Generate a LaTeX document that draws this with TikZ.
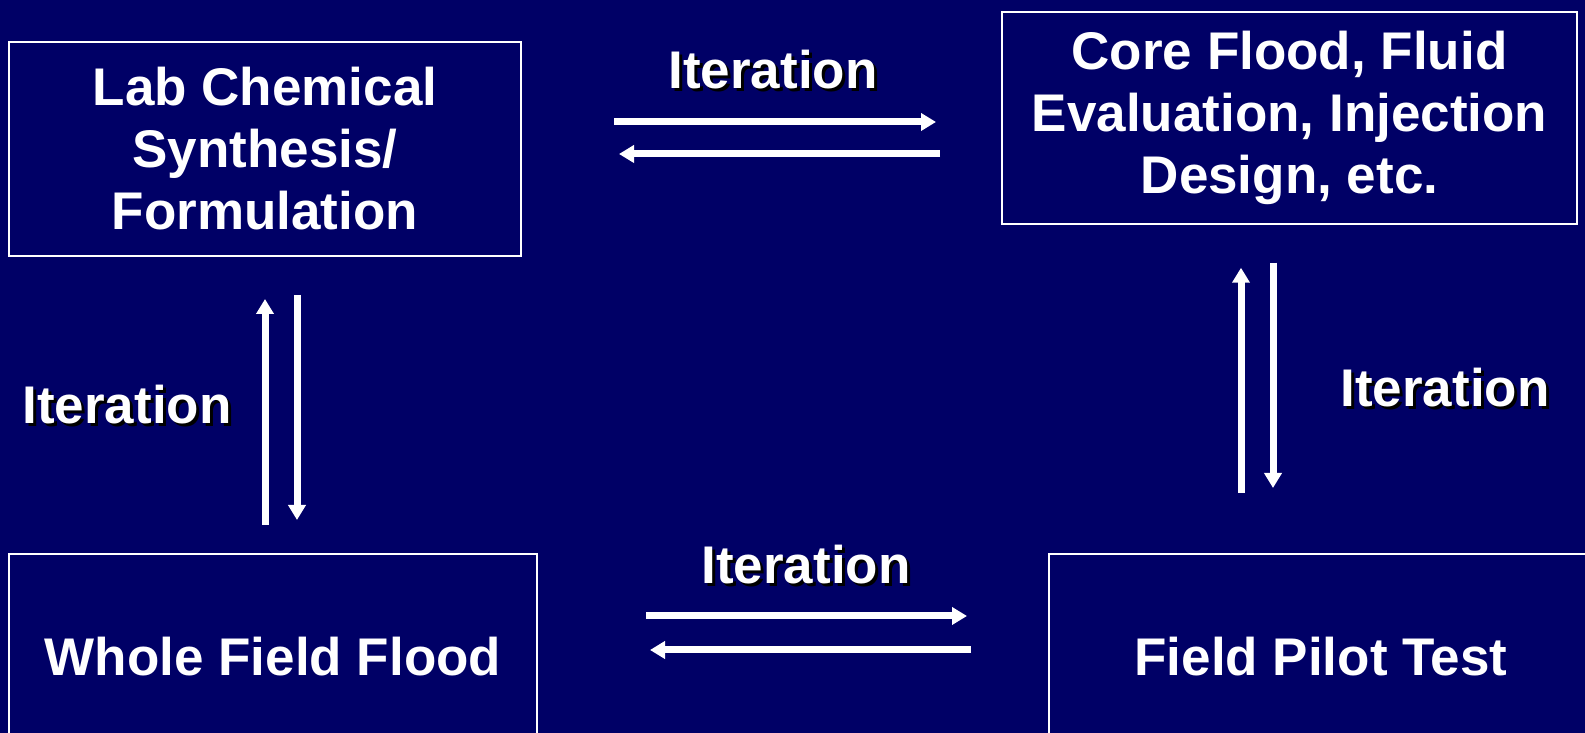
\documentclass[tikz,border=0pt]{standalone}
\usepackage{fontspec}
\setmainfont{Liberation Sans}
\usetikzlibrary{calc, arrows.meta}
\definecolor{slidebg}{RGB}{0,0,102}
\newcommand{\shadowed}[1]{\rlap{\hspace{3pt}\raisebox{-3pt}{\color{black}#1}}#1}

\begin{document}
\begin{tikzpicture}
    [x=1pt, y=1pt,
    boxnode/.style={rectangle, draw=white, line width=2pt, text=white, align=center, inner sep=0pt,
        font=\bfseries\fontsize{53}{62}\selectfont},
    itarrow/.style={white, line width=7pt, -{Triangle[length=15pt, width=17pt]}},
    itlabel/.style={text=white, inner sep=0pt, font=\bfseries\fontsize{53}{62}\selectfont},]

    \fill[slidebg] (0,0) rectangle (1585,733);
    \useasboundingbox (0,0) rectangle (1585,733);
    \clip (0,0) rectangle (1585,733);

    %Nodes
    \node[boxnode, minimum width=512pt, minimum height=214pt](lab) at (265,584){Lab Chemical\\Synthesis/\\Formulation};
    \node[boxnode, minimum width=575pt, minimum height=212pt](core) at (1289.5,615){Core Flood, Fluid\\Evaluation, Injection\\Design, etc.};
    \node[boxnode, minimum width=528pt, minimum height=206pt](whole) at (273,76){Whole Field Flood};
    \node[boxnode, minimum width=544pt, minimum height=206pt](pilot) at (1321,76){Field Pilot Test};

    %Lines
    \draw[itarrow]($(lab.east)+(92,27)$)--($(core.west)+(-65,-4)$);
    \draw[itarrow]($(core.west)+(-61,-36)$)--($(lab.east)+(97,-5)$);

    \draw[itarrow]($(whole.east)+(108,41)$)--($(pilot.west)+(-81,41)$);
    \draw[itarrow]($(pilot.west)+(-77,7)$)--($(whole.east)+(112,7)$);

    \draw[itarrow]($(whole.north)+(-8,28)$)--($(lab.south)+(0,-42)$);
    \draw[itarrow]($(lab.south)+(32,-38)$)--($(whole.north)+(24,33)$);

    \draw[itarrow]($(pilot.north)+(-80,60)$)--($(core.south)+(-48.5,-42.75)$);
    \draw[itarrow]($(core.south)+(-16.5,-37.75)$)--($(pilot.north)+(-48,65)$);

    %Labels
    \node[itlabel](ittop) at (773,662){\shadowed{Iteration}};
    \node[itlabel](itleft) at (127,327){\shadowed{Iteration}};
    \node[itlabel](itright) at (1445,344){\shadowed{Iteration}};
    \node[itlabel](itbottom) at (806,167){\shadowed{Iteration}};

\end{tikzpicture}
\end{document}
